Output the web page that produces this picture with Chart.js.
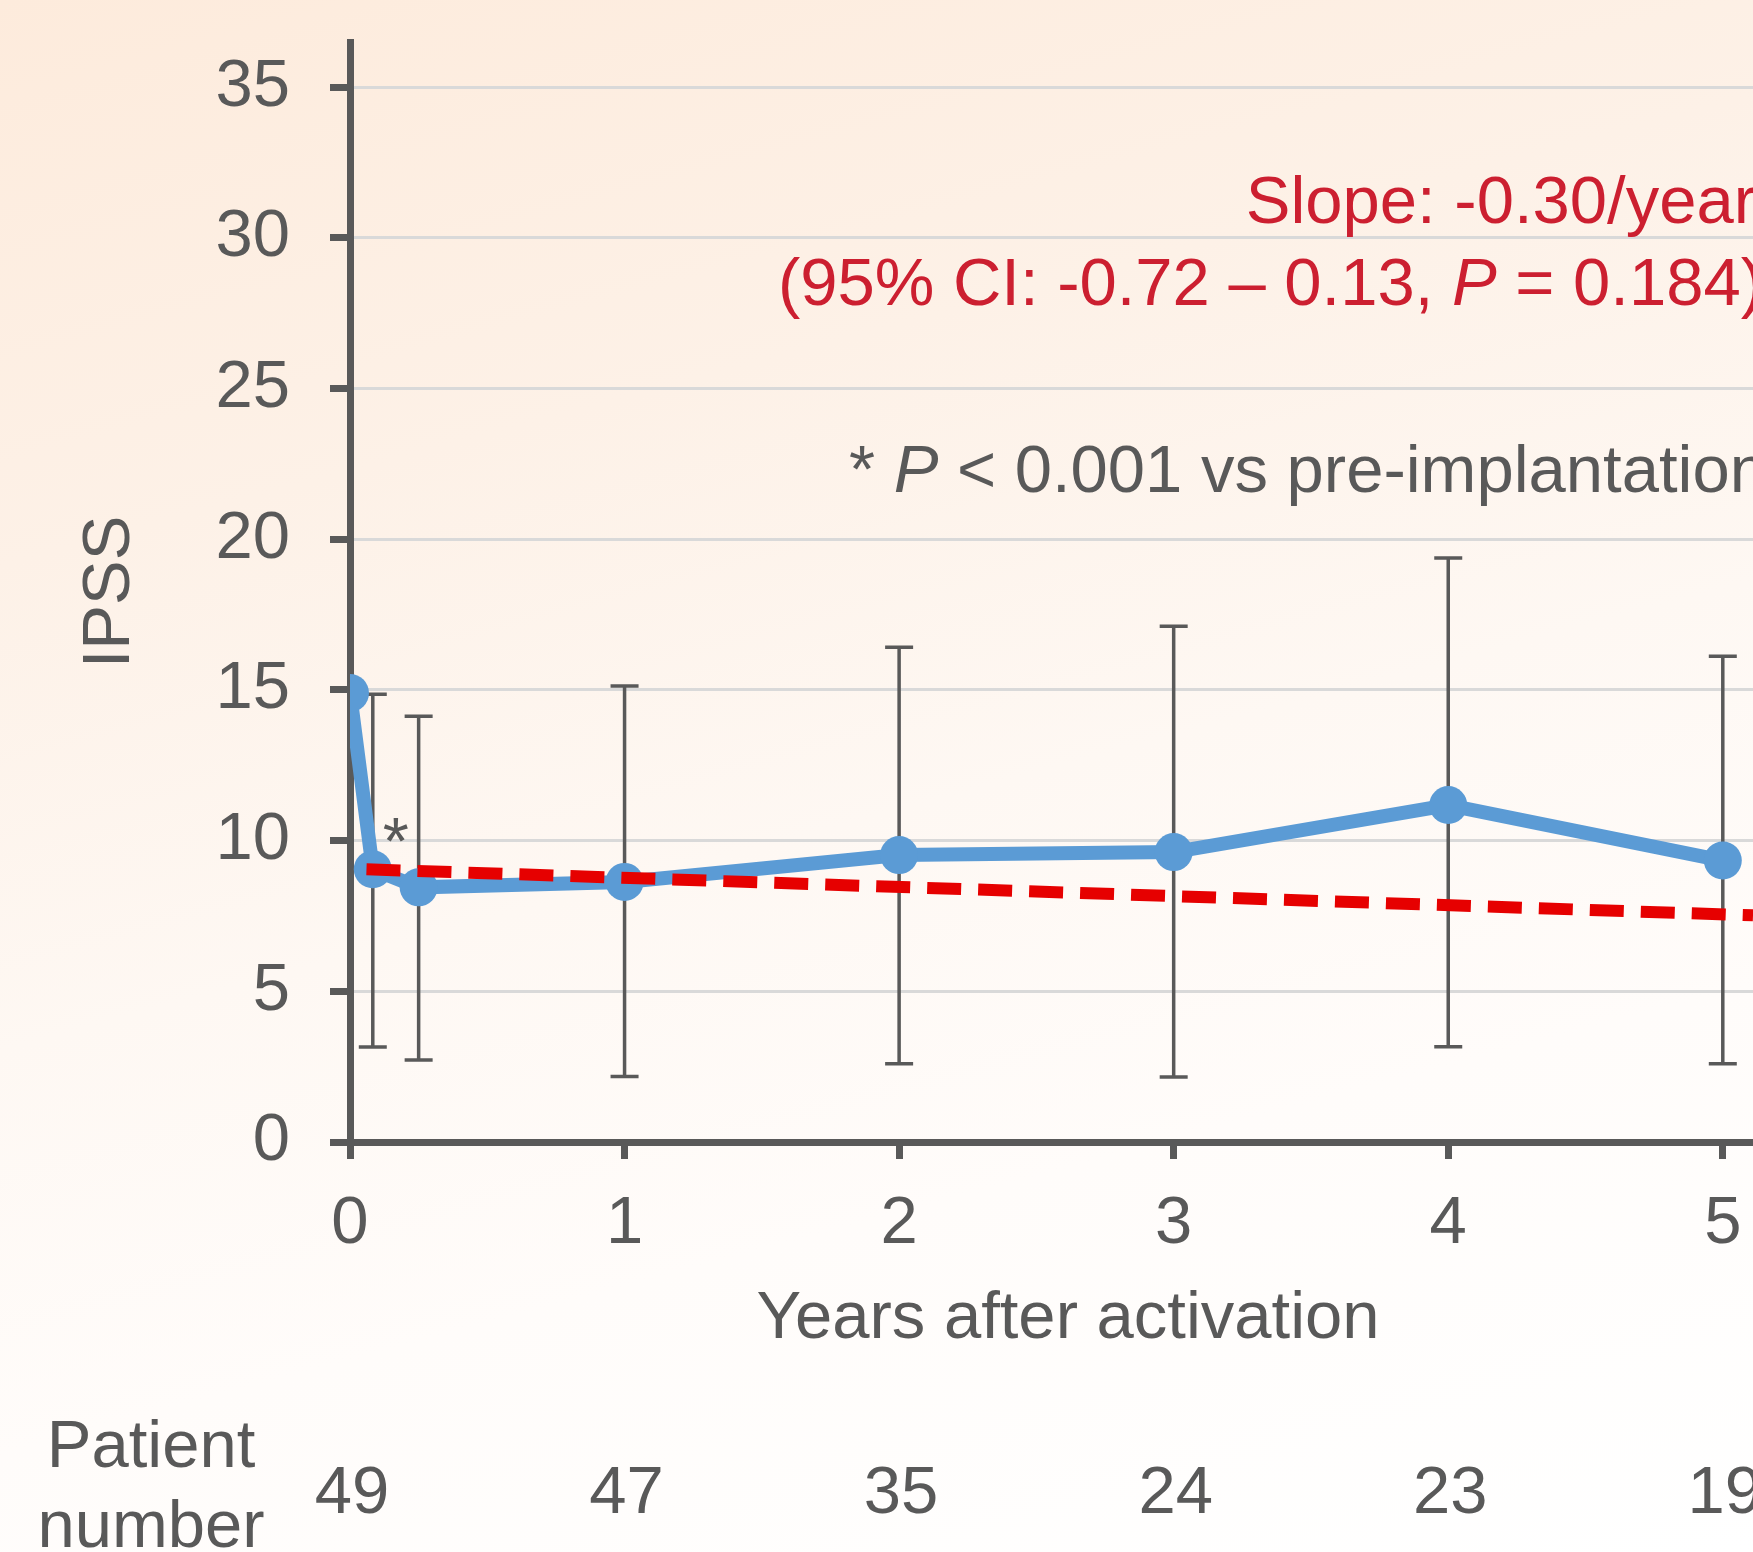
<!DOCTYPE html>
<html>
<head>
<meta charset="utf-8">
<script src="https://cdn.jsdelivr.net/npm/chart.js@4.4.1/dist/chart.umd.min.js"></script>
<style>
  html, body { margin: 0; padding: 0; }
  #wrap {
    width: 1753px; height: 1552px;
    background: linear-gradient(165deg, #fdebdc 0%, #fdf1e7 28%, #fef8f3 52%, #fffcfa 72%, #ffffff 100%);
  }
  canvas { display: block; }
</style>
</head>
<body>
<div id="wrap"><canvas id="ipssChart" width="1753" height="1552"></canvas></div>
<script>
// IPSS after activation
const years      = [0, 0.083, 0.25, 1, 2, 3, 4, 5];
const ipssMean   = [14.9, 9.05, 8.45, 8.63, 9.52, 9.62, 11.18, 9.34];
const ipssHigh   = [null, 14.86, 14.13, 15.13, 16.42, 17.11, 19.38, 16.12];
const ipssLow    = [null, 3.15, 2.72, 2.17, 2.6, 2.16, 3.16, 2.6];

// regression line (start and end as drawn)
const trendX = [0.06, 5.11];
const trendY = [9.05, 7.52];

const patientYears  = [0, 1, 2, 3, 4, 5];
const patientCounts = [49, 47, 35, 24, 23, 19];

const yTicks = [0, 5, 10, 15, 20, 25, 30, 35];
const xTicks = [0, 1, 2, 3, 4, 5];

const GRAY = '#595959';
const RED_TXT = '#cc1f30';
const FONT = '"Liberation Sans", Arial, sans-serif';
const FS = 67;

function font(italic) {
  return (italic ? 'italic ' : '') + FS + 'px ' + FONT;
}

// draws a line of text made of parts (some italic), right aligned
function drawParts(ctx, parts, rightX, y) {
  let total = 0;
  parts.forEach(p => { ctx.font = font(p.i); total += ctx.measureText(p.t).width; });
  let x = rightX - total;
  parts.forEach(p => {
    ctx.font = font(p.i);
    ctx.fillText(p.t, x, y);
    x += ctx.measureText(p.t).width;
  });
}

const errorBars = {
  id: 'errorBars',
  beforeDatasetsDraw(chart) {
    const ctx = chart.ctx, xs = chart.scales.x, ys = chart.scales.y;
    ctx.save();
    ctx.strokeStyle = GRAY;
    ctx.lineWidth = 3.5;
    years.forEach((yr, i) => {
      if (ipssHigh[i] == null) return;
      const px = xs.getPixelForValue(yr);
      const top = ys.getPixelForValue(ipssHigh[i]);
      const bot = ys.getPixelForValue(ipssLow[i]);
      ctx.beginPath();
      ctx.moveTo(px, top); ctx.lineTo(px, bot);
      ctx.moveTo(px - 14, top); ctx.lineTo(px + 14, top);
      ctx.moveTo(px - 14, bot); ctx.lineTo(px + 14, bot);
      ctx.stroke();
    });
    ctx.restore();
  }
};

const labels = {
  id: 'labels',
  afterDraw(chart) {
    const ctx = chart.ctx, xs = chart.scales.x, ys = chart.scales.y;
    ctx.save();
    ctx.textBaseline = 'alphabetic';

    // asterisk next to the 1-month point
    ctx.fillStyle = GRAY;
    ctx.font = font(false);
    ctx.textAlign = 'center';
    ctx.fillText('*', xs.getPixelForValue(years[1]) + 23, ys.getPixelForValue(ipssMean[1]) - 5);

    // y title
    ctx.save();
    ctx.translate(129, (chart.chartArea.top + chart.chartArea.bottom) / 2);
    ctx.rotate(-Math.PI / 2);
    ctx.fillText('IPSS', 0, 0);
    ctx.restore();

    // x title
    ctx.fillText('Years after activation', 1068, 1338);

    // patient numbers
    ctx.fillText('Patient', 151, 1467);
    ctx.fillText('number', 151, 1547);
    patientYears.forEach((yr, i) => {
      ctx.fillText(String(patientCounts[i]), xs.getPixelForValue(yr) + 2, 1513);
    });

    // statistics
    ctx.textAlign = 'left';
    ctx.fillStyle = RED_TXT;
    drawParts(ctx, [{t: 'Slope: -0.30/year'}], 1756, 223);
    drawParts(ctx, [{t: '(95% CI: -0.72 \u2013 0.13, '}, {t: 'P', i: true}, {t: ' = 0.184)'}], 1763, 305);
    ctx.fillStyle = GRAY;
    drawParts(ctx, [{t: '* '}, {t: 'P', i: true}, {t: ' < 0.001 vs pre-implantation'}], 1767, 492);
    ctx.restore();
  }
};

new Chart(document.getElementById('ipssChart'), {
  type: 'scatter',
  data: {
    datasets: [
      {
        label: 'Trend',
        data: trendX.map((x, i) => ({x, y: trendY[i]})),
        showLine: true,
        borderColor: '#e60000',
        borderWidth: 12,
        borderDash: [34, 17],
        pointRadius: 0,
        order: 0
      },
      {
        label: 'IPSS',
        data: years.map((x, i) => ({x, y: ipssMean[i]})),
        showLine: true,
        borderColor: '#5b9bd5',
        borderWidth: 14,
        pointRadius: 19,
        pointBackgroundColor: '#5b9bd5',
        pointBorderWidth: 0,
        order: 1
      }
    ]
  },
  options: {
    responsive: false,
    animation: false,
    layout: { autoPadding: false, padding: { top: 42, left: 0, right: 0, bottom: 0 } },
    plugins: { legend: { display: false }, tooltip: { enabled: false } },
    scales: {
      x: {
        type: 'linear',
        min: 0, max: 5.11,
        afterBuildTicks: s => { s.ticks = xTicks.map(v => ({value: v})); },
        afterFit: s => { s.height = 410; s.paddingLeft = 0; s.paddingRight = 0; },
        grid: { drawOnChartArea: false, tickLength: 17, tickColor: GRAY, tickWidth: 7 },
        border: { color: GRAY, width: 7 },
        ticks: { color: GRAY, padding: 25, font: { family: FONT, size: 67 } }
      },
      y: {
        min: 0, max: 36.5,
        afterBuildTicks: s => { s.ticks = yTicks.map(v => ({value: v})); },
        afterFit: s => { s.width = 350; s.paddingTop = 0; s.paddingBottom = 0; },
        grid: {
          color: c => (c.tick && c.tick.value === 0 ? 'rgba(0,0,0,0)' : '#d9d9d9'),
          lineWidth: 3, tickLength: 20, tickColor: GRAY, tickWidth: 7
        },
        border: { color: GRAY, width: 7 },
        ticks: { color: GRAY, padding: 40, font: { family: FONT, size: 67 } }
      }
    }
  },
  plugins: [errorBars, labels]
});
</script>
</body>
</html>
